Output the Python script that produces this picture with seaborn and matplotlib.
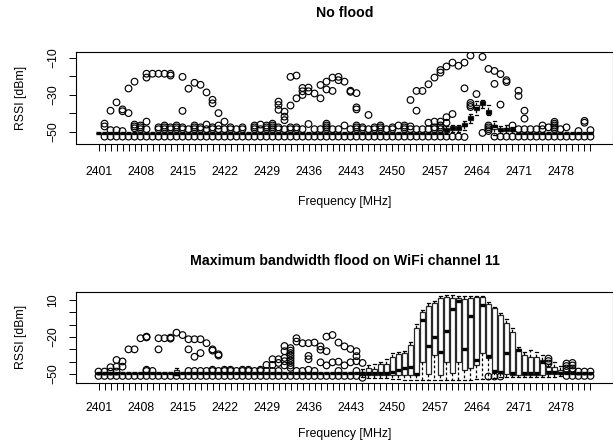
import numpy as np
import pandas as pd
import matplotlib
matplotlib.use("Agg")
import matplotlib.pyplot as plt
import seaborn as sns

# ---------------- data ----------------
freqs = [str(f) for f in range(2401, 2484)]  # 83 channels, 1 MHz apart

# --- "No flood" panel: five-number summaries per channel
nf_lo = [-50.5] * 58 + [-51, -50, -50, -49, -45, -40.8, -37.2, -41, -51.6, -50.5, -50.5, -50.5] + [-50.5] * 13
nf_q1 = [-50.5] * 58 + [-50, -49, -49, -47, -43.5, -38, -35.4, -40.3, -48.3, -49.5, -49.5, -49.5] + [-50.5] * 13
nf_med = [-50.5] * 58 + [-49, -48, -48, -46, -42.5, -37, -34.5, -39, -47, -49, -48.5, -49] + [-50.5] * 13
nf_q3 = [-50.5] * 58 + [-48, -47, -47, -45, -41.5, -35.4, -33.5, -38, -46, -48, -48, -48.5] + [-50.5] * 13
nf_hi = [-50.5] * 58 + [-47, -46, -46, -44, -40.5, -33.2, -32.5, -35.4, -44, -47, -46.2, -47.5] + [-50.5] * 13
nf_out = [
    [], [-45.5, -47, -52.5], [-38.5, -52.5, -49], [-34, -52.5, -49],
    [-37.8, -38.8, -52.5, -49.5], [-26.5, -39.8, -52.5], [-22.8, -52.5, -48, -47, -46],
    [-52.5, -48.5, -47.5, -46.5], [-18.5, -20.6, -44.4, -52.5, -48.5], [-18.5, -52.5],
    [-18.5, -52.5, -48.5, -47.5], [-18.5, -52.5, -48.5, -47.5, -46.5],
    [-18.5, -19.5, -52.5, -48.5, -47.5], [-52.5, -48.5, -47.5, -46.5],
    [-20.2, -38.6, -52.5, -48.5, -47.5], [-26.6, -52.5, -48.5],
    [-23.4, -52.5, -48.5, -47.5, -46.5], [-24.5, -52.5, -48.5, -47.5],
    [-28.6, -52.5, -48.5, -46], [-32.6, -34.5, -52.5, -48.5, -47.5],
    [-39.8, -52.5, -48.5, -46.5], [-44.4, -52.5, -48.5], [-52.5, -48.5, -47.5],
    [-52.5, -48.5], [-52.5, -48.5, -47.5], [-52.5], [-52.5, -48.5, -47.5, -46.5],
    [-52.5, -48.5, -46], [-52.5, -48.5, -47.5, -46.5], [-52.5, -48.5, -47.5, -46.5, -45.5],
    [-33.6, -35.4, -38, -52.5, -48.5, -47.5], [-39, -41.7, -43.6, -52.5, -48.5],
    [-20.2, -35.7, -52.5, -48.5, -47.5], [-19.5, -31.8, -52.5, -48.5, -47.5],
    [-26.2, -28, -30, -52.5, -48.5], [-26, -28, -45.7, -52.5], [-29.2, -52.5, -48.5],
    [-24.6, -31.8, -52.5, -48.5], [-22.8, -27, -52.5, -48.5, -47.5, -46.5, -45.5],
    [-20.6, -27.8, -52.5, -48.5], [-20.2, -22, -52.5, -48.5], [-22.8, -52.5, -46.5],
    [-27.7, -28.3, -52.5, -48.5], [-29, -36.7, -37.8, -52.5, -48.5, -47.5, -46.5],
    [-52.5, -48.5, -47.5], [-40.8, -52.5, -48.5], [-52.5, -48.5, -47.5],
    [-52.5, -48.5, -47.5, -46.5], [-52.5, -48.5], [-52.5, -48.5, -47.5], [-52.5, -46.5],
    [-52.5, -48.5, -47.5, -46.5], [-32.7, -52.5, -48.5, -47], [-27.8, -38.5, -52.5, -48.5],
    [-27.8, -52.5, -48.5], [-24.2, -52.5, -48.5, -45], [-20.6, -44.4, -52.5, -48.5, -47.5],
    [-16.5, -17.9, -44.4, -52.5, -48.5, -47.5, -46.5], [-14.6, -42, -45, -52.5],
    [-12.5, -40.3, -52.5], [-14.2, -52.5], [-12.5, -26.4, -52.7], [-8.7, -34.3, -35.5, -36.5],
    [-29.5], [-9.4, -50.5], [-15.9, -46.5, -47.5, -48.5, -49.5], [-17, -24, -52.5],
    [-18.7, -35.2, -52.5], [-22, -23, -52.5], [-52.5, -46.5], [-27.7, -30.5, -52.5, -48.5],
    [-38.5, -42.8, -52.5, -48.5], [-52.5, -48.5], [-52.5, -48.5], [-52.5, -48.5, -46.5],
    [-52.5, -47.5], [-52.5, -48.5, -47.5, -46.5, -45.5, -44.5], [-52.5, -48.5],
    [-52.5, -47.5], [-52.5], [-52.5, -49.5], [-52.5, -45, -44], [-52.5, -49],
]

# --- "Maximum bandwidth flood on WiFi channel 11" panel
fl_lo = ([-49.5] * 13 + [-51] + [-49.5] * 30 +
         [-52, -53, -53, -53.5, -53.5, -54, -54, -54.5, -54.5, -54.5, -54.5, -54.5, -54.5,
          -54.5, -54.5, -54.5, -54.5, -54.5, -54.5, -54, -54, -54, -53, -52, -52, -52, -52,
          -52, -52, -52, -52, -52, -52, -51.5] + [-49.5] * 5)
fl_q1 = ([-49.5] * 13 + [-50.5] + [-49.5] * 30 +
         [-50.5, -51, -51, -51, -51, -51, -51, -51, -51, -51, -40, -50, -34.5,
          -50.5, -40, -49.5, -40, -46.7, -45.4, -42.6, -33, -37, -48.7, -49.5, -50, -50.5, -50.5,
          -50.5, -50.5, -50.5, -50.5, -50, -50, -50] + [-49.5] * 5)
fl_med = ([-49.5] * 13 + [-49.5] + [-49.5] * 30 +
          [-49.5, -49.5, -49.5, -49, -49, -48, -47, -45.3, -44.5, -50.2, -6.2, -27.2, -20,
           -32, -15, 2.5, 9, -30, -3, -38.6, 6, -35.3, -47.5, -48.5, -32.7, -49.5, -30.5,
           -49.5, -49.5, -49.5, -40, -48, -48.5, -49] + [-49.5] * 5)
fl_q3 = ([-49.5] * 13 + [-47] + [-49.5] * 30 +
         [-48, -45, -46, -42, -42, -35.9, -33.7, -32.7, -26.4, -13, 0.5, 5.1, 7.8,
          11.3, 12.7, 12, 11.3, 10.7, 12, 12.7, 12.7, 6.7, 3.3, -2.1, -8.3, -15.6, -30,
          -34.5, -35.9, -35.9, -38.6, -44, -44, -46.5] + [-49.5] * 5)
fl_hi = ([-49.5] * 13 + [-45.3] + [-49.5] * 30 +
         [-46, -43, -41.7, -40, -37.6, -33.2, -31.9, -31, -23.7, -9.5, 1.9, 7.3, 9.4,
          13.2, 14, 14, 13.2, 13.2, 13.2, 13.2, 13.2, 8.6, 4.6, -0.3, -5.7, -13, -27.8,
          -31.9, -30.7, -31.9, -34.5, -42, -40, -43.5] + [-49.5] * 5)
fl_out = [
    [-51.5, -48], [-51.5, -48], [-44.5, -51.5, -48], [-38.6, -44, -51.5, -48],
    [-39.8, -44, -51.5], [-30, -51.5], [-30, -51.5], [-21, -51.5],
    [-19.7, -20.3, -51.5, -47.5, -46.5], [-51.5, -47.5], [-21, -30, -51.5], [-21, -51.5],
    [-20.5, -21.3, -51.5], [-16.5, -51.5], [-18.4, -51.5], [-21.8, -30, -51.5, -47.5],
    [-21.8, -36, -51.5, -47.5], [-21.8, -33, -51.5, -47.5], [-25, -51.5, -47.5],
    [-30, -31, -51.5, -47.5, -46.5], [-34, -35, -51.5, -47.5], [-51.5, -47.5, -46.5],
    [-51.5, -47.5, -46.5], [-51.5, -47.5], [-51.5, -47.5, -46.5], [-51.5, -47.5, -46.5],
    [-51.5, -47.5], [-51.5, -47.5, -46.5], [-42.6, -51.5, -47.5], [-38, -42.6, -51.5, -47.5],
    [-38, -41, -51.5, -47.5], [-27.3, -31.5, -36.9, -39.6, -43, -51.5],
    [-29, -31, -33, -35, -37, -39, -41, -43, -45, -51.5], [-21, -23.7, -51.5, -47.5],
    [-25, -51.5, -47.5], [-25, -35.3, -38, -51.5, -46.5], [-24.5, -51.5, -47.5],
    [-27.6, -30.3, -40.5, -51.5], [-19.7, -31.5, -43, -51.5], [-18.4, -40.5, -51.5],
    [-24.5, -40, -51.5, -47.5], [-27.6, -43, -51.5], [-29.7, -40.5, -51.5],
    [-31.5, -35.5, -39.6, -51.5, -47.5], [-41, -53],
    [], [], [], [], [], [], [], [], [], [], [], [], [], [], [], [], [], [], [], [],
    [-52], [-52], [-52], [], [], [], [], [], [], [],
    [-37.5, -39.5, -41.5], [], [], [-41.5, -43.5, -45.5, -47.5, -51.5],
    [-41, -43, -45.5, -47.5, -51.5], [-51.5, -48], [-51.5, -48], [-51.5, -48],
]

titles = ["No flood", "Maximum bandwidth flood on WiFi channel 11"]
x_label = "Frequency [MHz]"
y_label = "RSSI [dBm]"
top_yticks = [-50, -40, -30, -20, -10]
top_ylabels = ["\u221250", "", "\u221230", "", "\u221210"]
bot_yticks = [-50, -40, -30, -20, -10, 0, 10]
bot_ylabels = ["\u221250", "", "", "\u221220", "", "", "10"]

# ---------------- style ----------------
plt.rcParams["font.family"] = ["Liberation Sans", "DejaVu Sans"]
plt.rcParams["axes.linewidth"] = 0.8

W, H = 613, 447
fig = plt.figure(figsize=(W / 100, H / 100), dpi=100)


def panel(rect, lo, q1, med, q3, hi, outs, ylim, yticks, ylabels, title,
          title_pad, xlab_y, xpad):
    ax = fig.add_axes(rect)
    rows = []
    for f, a, b, c, d, e in zip(freqs, lo, q1, med, q3, hi):
        for v in (a, b, c, d, e):
            rows.append((f, v))
    box_df = pd.DataFrame(rows, columns=["freq", "rssi"])
    out_df = pd.DataFrame([(f, v) for f, vs in zip(freqs, outs) for v in vs],
                          columns=["freq", "rssi"])
    sns.boxplot(data=box_df, x="freq", y="rssi", order=freqs, whis=np.inf,
                width=0.7, color="white", linecolor="#2a2a2a", linewidth=0.9,
                saturation=1, showfliers=False, ax=ax,
                medianprops=dict(linewidth=2.4, color="black"),
                capprops=dict(color="black"),
                whiskerprops=dict(linestyle=(0, (2.2, 1.8)), color="black"))
    sns.stripplot(data=out_df, x="freq", y="rssi", order=freqs, jitter=False,
                  size=4.8, color="black", facecolor="none", edgecolor="black",
                  linewidth=0.85, ax=ax)
    ax.set_xlim(-3.82, 85.82)
    ax.set_ylim(*ylim)
    ax.set_xticks(range(len(freqs)))
    ax.set_xticklabels([f if i % 7 == 0 else "" for i, f in enumerate(freqs)])
    ax.set_yticks(yticks)
    ax.set_yticklabels(ylabels, rotation=90, va="center")
    ax.tick_params(axis="both", direction="out", length=5, width=0.7,
                   labelsize=8.8, colors="black")
    ax.tick_params(axis="x", pad=xpad)
    ax.tick_params(axis="y", pad=7)
    for s in ax.spines.values():
        s.set_visible(True)
        s.set_color("black")
        s.set_linewidth(0.8)
    ax.set_title(title, fontsize=10.2, fontweight="bold", pad=title_pad)
    ax.set_xlabel(x_label, fontsize=8.8)
    ax.set_ylabel(y_label, fontsize=8.8)
    ax.xaxis.set_label_coords(0.5, xlab_y)
    ax.yaxis.set_label_coords(-0.091, 0.5)
    ax.grid(False)
    return ax


left = 75.6 / W
width = 537.8 / W
panel([left, 1 - 144 / H, width, 92 / H], nf_lo, nf_q1, nf_med, nf_q3, nf_hi,
      nf_out, (-56.5, -6.76), top_yticks, top_ylabels, titles[0], 25, -0.56, 11)
panel([left, 1 - 382.7 / H, width, 91 / H], fl_lo, fl_q1, fl_med, fl_q3, fl_hi,
      fl_out, (-57.0, 16.7), bot_yticks, bot_ylabels, titles[1], 19, -0.50, 9)

fig.savefig("out.png", dpi=100)
